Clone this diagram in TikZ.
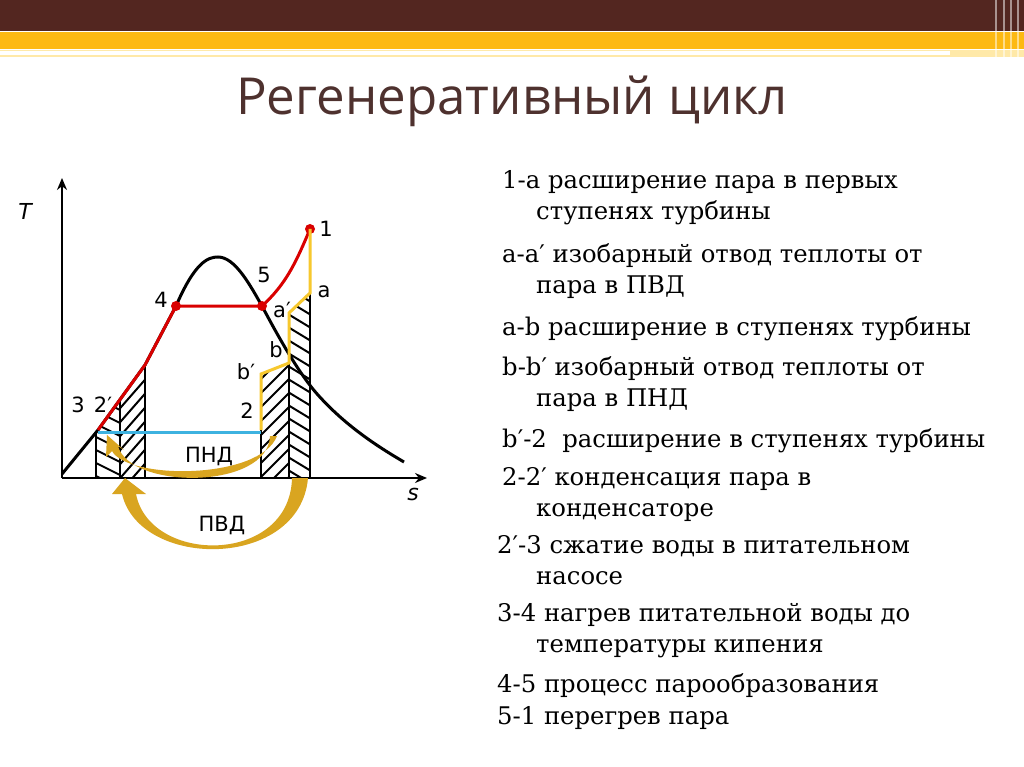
\documentclass[tikz,border=0pt]{standalone}
\usepackage{fontspec}
\setmainfont{DejaVu Serif}
\newfontfamily\tsans{Open Sans}
\newfontfamily\dsans{DejaVu Sans}
\usetikzlibrary{patterns,arrows.meta}
\definecolor{brn}{HTML}{532620}
\definecolor{gld}{HTML}{FDB913}
\definecolor{pale}{HTML}{FFE9A8}
\definecolor{arr}{HTML}{D9A520}
\definecolor{blu}{HTML}{3DB2E0}
\definecolor{ylw}{HTML}{F7C82E}
\begin{document}
\begin{tikzpicture}[x=1pt,y=-1pt,
  lbl/.style={font=\dsans\fontsize{21}{21}\selectfont,inner sep=0},
  item/.style={anchor=north west,font=\fontsize{24.3}{24.3}\selectfont,inner sep=0,align=left},
  hat/.style={draw=black,line width=2.2pt}]
\useasboundingbox (0,0) rectangle (1024,767);
\fill[white] (0,0) rectangle (1024,767);
\fill[brn] (0,0) rectangle (1024,31);
\fill[gld] (0,32) rectangle (1024,49);
\fill[pale] (0,50) rectangle (1024,57);
\fill[white] (0,51) rectangle (950,55);
\foreach \x in {995,1003,1010,1017} \fill[white,opacity=0.5] (\x,0) rectangle (\x+2,64);
\node[font=\tsans\fontsize{51}{51}\selectfont,text=brn!70!black!90] (title) at (512,101) {Регенеративный цикл};
% hatched areas
\begin{scope}
\clip (96,478) -- (96,432) -- (98,430) -- (120,398) -- (120,478) -- cycle;
\foreach \k in {0,...,8} \draw[line width=2pt] (90,395+\k*13) -- (130,415+\k*13);
\end{scope}
\begin{scope}
\clip (120,478) -- (120,398) -- (145,365) -- (145,478) -- cycle;
\foreach \k in {0,...,10} \draw[line width=2pt] (115,400+\k*14) -- (150,360+\k*14);
\end{scope}
\begin{scope}
\clip (261,478) -- (261,374) -- (289,363) -- (289,478) -- cycle;
\foreach \k in {0,...,10} \draw[line width=2pt] (255,385+\k*14) -- (295,345+\k*14);
\end{scope}
\begin{scope}
\clip (289,478) -- (289,313) -- (310,293) -- (310,478) -- cycle;
\foreach \k in {0,...,14} \draw[line width=2pt] (283,285+\k*13) -- (316,305+\k*13);
\end{scope}
\draw[hat] (96,432) -- (96,478) (120,398) -- (120,478) (145,365) -- (145,478)
  (261,374) -- (261,478) (289,363) -- (289,478) (310,293) -- (310,478);
% axes
\draw[line width=2.4pt,-{Stealth[length=12pt,width=10pt]}] (62,478) -- (62,178);
\draw[line width=2.4pt,-{Stealth[length=12pt,width=10pt]}] (62,478) -- (427,478);
\node[font=\dsans\itshape\fontsize{22}{22}\selectfont] (T) at (25,211) {T};
\node[font=\dsans\itshape\fontsize{22}{22}\selectfont] (s) at (413,494) {s};
% saturation curve
\draw[line width=3pt] (62,474) -- (98,430) -- (145,365) -- (176,306)
  .. controls (195,262) and (208,257) .. (218,257)
  .. controls (235,257) and (250,285) .. (262,306)
  .. controls (280,340) and (300,375) .. (318,395)
  .. controls (345,425) and (375,445) .. (404,462);
% red cycle
\draw[red!85!black,line width=3pt] (98,430) -- (145,365) -- (176,306) -- (262,306)
  .. controls (285,285) and (295,265) .. (310,229);
\fill[red!85!black] (176,306) circle (5) (262,306) circle (5) (310,229) circle (5);
% yellow expansion
\draw[ylw,line width=3pt] (310,229) -- (310,293) -- (289,313) -- (289,363) -- (261,374) -- (261,430);
% blue condensation
\draw[blu,line width=3pt] (98,432) -- (261,432);
% arrows
\fill[arr] (270,436) .. controls (268,490) and (130,490) .. (118,446) -- (124,450) -- (107,435) -- (106,457) -- (112,451)
  .. controls (128,480) and (260,480) .. (277,436) -- cycle;
\fill[arr] (292,478) .. controls (290,565) and (150,565) .. (136,494) -- (146,494) -- (125,478) -- (112,494) -- (122,494)
  .. controls (140,570) and (300,570) .. (308,478) -- cycle;
\node[lbl] (pnd) at (209,456) {ПНД};
\node[lbl] (pvd) at (222,525) {ПВД};
\node[lbl] (l1) at (326,229) {1};
\node[lbl] (l5) at (264,275) {5};
\node[lbl] (l4) at (161,300) {4};
\node[lbl] (lap) at (282,310) {a′};
\node[lbl] (la) at (324,292) {a};
\node[lbl] (lb) at (276,350) {b};
\node[lbl] (lbp) at (246,372) {b′};
\node[lbl] (l2) at (247,411) {2};
\node[lbl] (l3) at (78,405) {3};
\node[lbl] (l2p) at (103,405) {2′};
% text list
\node[item] (t1) at (502,170) {1-a расширение пара в первых\\[7pt]\hspace*{34pt}ступенях турбины};
\node[item] (t2) at (502,243) {a-a′ изобарный отвод теплоты от\\[7pt]\hspace*{34pt}пара в ПВД};
\node[item] (t3) at (502,316) {a-b расширение в ступенях турбины};
\node[item] (t4) at (502,356) {b-b′ изобарный отвод теплоты от\\[7pt]\hspace*{34pt}пара в ПНД};
\node[item] (t5) at (502,428) {b′-2 \ расширение в ступенях турбины};
\node[item] (t6) at (502,467) {2-2′ конденсация пара в\\[7pt]\hspace*{34pt}конденсаторе};
\node[item] (t7) at (497,535) {2′-3 сжатие воды в питательном\\[7pt]\hspace*{39pt}насосе};
\node[item] (t8) at (497,603) {3-4 нагрев питательной воды до\\[7pt]\hspace*{39pt}температуры кипения};
\node[item] (t9) at (497,673) {4-5 процесс парообразования};
\node[item] (t10) at (497,706) {5-1 перегрев пара};
\end{tikzpicture}
\end{document}
